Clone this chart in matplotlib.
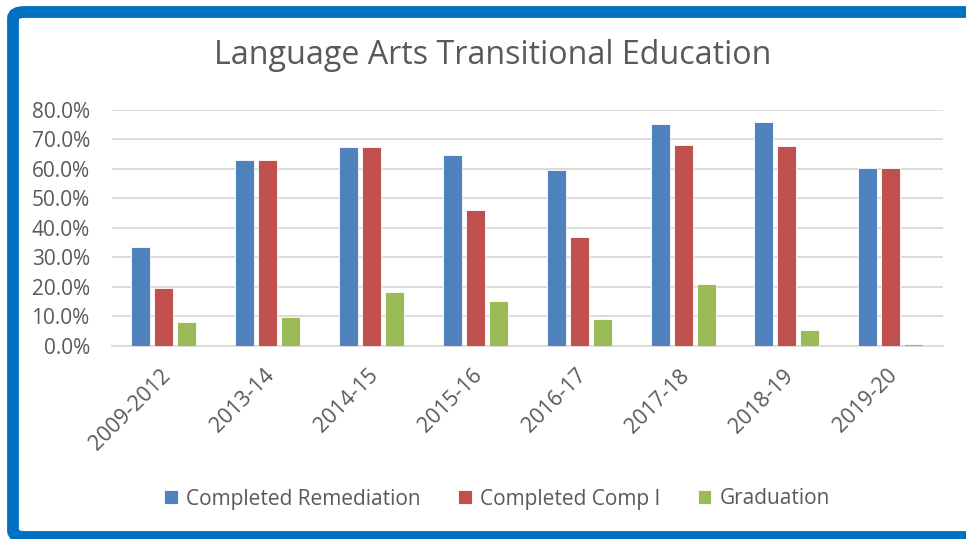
import matplotlib
matplotlib.use("Agg")
import matplotlib.pyplot as plt
from matplotlib.patches import FancyBboxPatch
from matplotlib.transforms import ScaledTranslation
import numpy as np

categories = ["2009-2012", "2013-14", "2014-15", "2015-16", "2016-17", "2017-18", "2018-19", "2019-20"]
remediation = [33.5, 62.9, 67.4, 64.7, 59.7, 75.3, 75.9, 60.3]
comp_i = [19.6, 62.9, 67.4, 46.1, 37.0, 68.0, 67.7, 60.3]
graduation = [7.9, 9.8, 18.2, 15.3, 9.0, 21.0, 5.4, 0.6]
series_names = ["Completed Remediation", "Completed Comp I", "Graduation"]
colors = ["#4F81BD", "#C0504D", "#9BBB59"]
yticks = [0, 10, 20, 30, 40, 50, 60, 70, 80]

plt.rcParams['font.family'] = ['Open Sans', 'DejaVu Sans']
W, H = 966, 539
fig = plt.figure(figsize=(W/100, H/100), dpi=100)
fig.patch.set_facecolor("white")

# blue frame
frame = FancyBboxPatch((13/W, 2/H), (W + 40)/W, (537 - 12)/H,
                       boxstyle="round,pad=0,rounding_size=0.012",
                       transform=fig.transFigure, fill=False,
                       edgecolor="#0070C0", linewidth=8.5, clip_on=False)
fig.patches.append(frame)

ax = fig.add_axes([112/W, 1 - 345.7/H, (942.7 - 112)/W, (345.7 - 110)/H])
x = np.arange(len(categories))
step = 23/103.8
bw = 19/103.8
for k, vals in enumerate([remediation, comp_i, graduation]):
    ax.bar(x + (k - 1)*step, np.array(vals)/100, width=bw, color=colors[k],
           edgecolor="white", linewidth=0.6, label=series_names[k], zorder=3)

ax.set_xlim(-0.5, len(categories) - 0.5)
ax.set_ylim(0, 0.8)
ax.set_yticks(np.array(yticks)/100)
ax.set_yticklabels([f"{v:.1f}%" for v in yticks])
ax.yaxis.grid(True, color="#d9d9d9", linewidth=1.3, zorder=0)
ax.set_axisbelow(True)
for s in ["top", "right", "left"]:
    ax.spines[s].set_visible(False)
ax.spines["bottom"].set_color("#d9d9d9")
ax.spines["bottom"].set_linewidth(1.3)
ax.tick_params(axis="y", length=0, colors="#595959", labelsize=15, pad=16)
ax.set_xticks(x)
ax.set_xticklabels(categories, rotation=45, ha="right", rotation_mode="anchor")
ax.tick_params(axis="x", length=0, colors="#595959", labelsize=15.5, pad=14)
for lab in ax.get_xticklabels():
    lab.set_transform(lab.get_transform() + ScaledTranslation(-4/100, 0, fig.dpi_scale_trans))

fig.text(493/W, 1 - 56/H, "Language Arts Transitional Education", ha="center", va="center",
         fontsize=23.2, color="#595959")

handles, labels = ax.get_legend_handles_labels()
leg = fig.legend(handles, labels, loc="center", bbox_to_anchor=(497/W, 1 - 499/H), ncol=3,
                 frameon=False, fontsize=15, handlelength=0.65, handleheight=0.65,
                 handletextpad=0.4, columnspacing=1.8, labelcolor="#595959")

fig.savefig("out.png", dpi=100, facecolor="white")
